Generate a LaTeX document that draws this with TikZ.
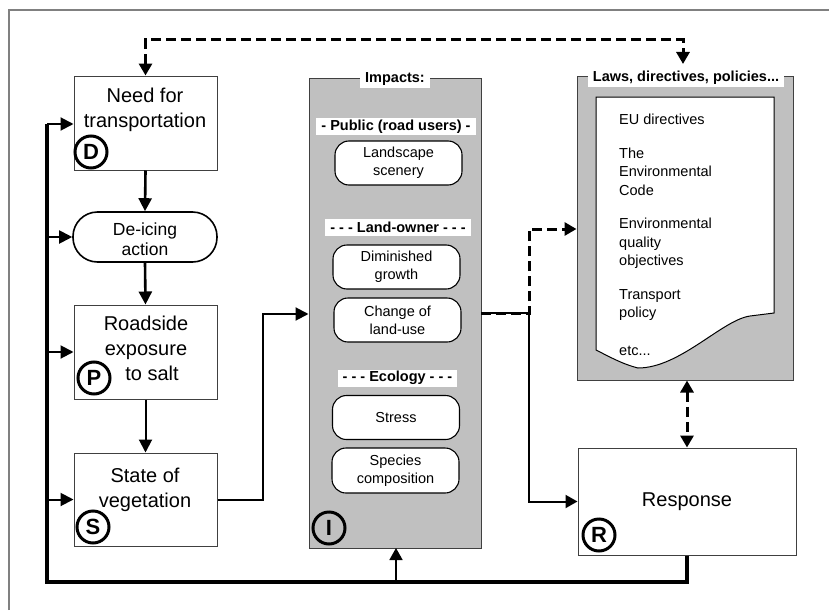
\documentclass[tikz,border=0pt]{standalone}
\usepackage{fontspec}
\setmainfont{Liberation Sans}
\usetikzlibrary{arrows.meta}
\definecolor{panelgray}{HTML}{C0C0C0}
\definecolor{edgegray}{HTML}{404040}
\definecolor{framegray}{HTML}{808080}
\tikzset{
  box/.style={draw=edgegray,line width=1pt,fill=white,inner sep=0pt,minimum width=143pt},
  btxt/.style={align=center,inner sep=0pt,font=\fontsize{20}{25}\selectfont},
  pill/.style={draw=black,line width=1.6pt,fill=white,inner sep=0pt,minimum width=144pt,minimum height=50pt,rounded corners=24.5pt},
  panel/.style={draw=edgegray,line width=1pt,fill=panelgray,inner sep=0pt},
  ibox/.style={draw=black,line width=1.1pt,fill=white,rounded corners=14pt,inner sep=0pt,minimum width=127pt,minimum height=44pt,align=center,font=\fontsize{14.5}{18}\selectfont},
  tag/.style={fill=white,inner xsep=5pt,inner ysep=0pt,minimum height=17pt,font=\fontsize{14.5}{17}\selectfont\bfseries},
  letter/.style={circle,draw=black,line width=3pt,inner sep=0pt,minimum size=32pt,font=\fontsize{22}{22}\selectfont\bfseries},
  ltxt/.style={anchor=west,align=left,inner sep=0pt,font=\fontsize{14.5}{18.5}\selectfont},
  flow/.style={line width=2.6pt,-{Triangle[length=13pt,width=13pt]}},
  feed/.style={line width=2pt,-{Triangle[length=13pt,width=13pt]}},
  loopline/.style={line width=3.2pt},
  dashline/.style={line width=3pt,dash pattern=on 10pt off 5pt},
  tipboth/.style={{Triangle[length=12pt,width=13pt]}-{Triangle[length=12pt,width=13pt]}},
  tipend/.style={-{Triangle[length=12pt,width=13pt]}}
}
\begin{document}
\begin{tikzpicture}[x=1pt,y=-1pt]
\useasboundingbox (0,0) rectangle (829,610);
% frame
\draw[framegray,line width=1.2pt] (9,610) -- (9,10) -- (829,10);

% DPSIR left column
\node[box,minimum height=94pt] (D) at (145.5,123) {};
\node[btxt] (Dt) at (145,109.5) {Need for\\transportation};
\node[letter] (Dl) at (91,152) {D};

\node[pill] (De) at (145,237) {};
\node[btxt,font=\fontsize{17.5}{20}\selectfont] (Det) at (145,239) {De-icing\\action};

\node[box,minimum height=94pt] (P) at (145.5,352) {};
\node[btxt] (Pt) at (146,348) {Roadside\\exposure\\\hspace*{12pt}to salt};
\node[letter] (Pl) at (94,378) {P};

\node[box,minimum height=93pt] (S) at (145.5,499.5) {};
\node[btxt] (St) at (145,489.5) {State of\\vegetation};
\node[letter] (Sl) at (93,527) {S};

% Impacts panel
\node[panel,minimum width=172pt,minimum height=470pt] (I) at (395,313) {};
\node[tag] (It) at (395,79) {Impacts:};
\node[tag] (Ipub) at (396,126.5) {- Public (road users) -};
\node[ibox] (I1) at (398.5,163) {Landscape\\scenery};
\node[tag] (Iland) at (398,227) {- - - Land-owner - - -};
\node[ibox] (I2) at (396.5,267) {Diminished\\growth};
\node[ibox] (I3) at (397.5,320) {Change of\\land-use};
\node[tag] (Ieco) at (397.5,378) {- - - Ecology - - -};
\node[ibox] (I4) at (396,417.5) {Stress};
\node[ibox,minimum height=45pt] (I5) at (395.5,470.5) {Species\\composition};
\node[letter] (Il) at (329,528) {I};

% Laws panel
\node[panel,minimum width=216pt,minimum height=304pt] (L) at (685,228) {};
\node[tag] (Lt) at (686,78) {Laws, directives, policies...};
\draw[fill=white,draw=black,line width=1pt] (596,97) -- (774,97) -- (774,313) -- (750,316)
  .. controls (722,320) and (680,368) .. (638,368)
  .. controls (622,364) and (608,356) .. (596,350) -- cycle;
\node[ltxt] (L1) at (619,119) {EU directives};
\node[ltxt] (L2) at (619,171.5) {The\\Environmental\\Code};
\node[ltxt] (L3) at (619,243.5) {Environmental\\quality\\objectives};
\node[ltxt] (L4) at (619,305) {Transport\\policy};
\node[ltxt] (L5) at (619,351) {etc...};

% Response
\node[box,minimum width=218pt,minimum height=107pt] (R) at (687,501.5) {};
\node[btxt] (Rt) at (687,502) {Response};
\node[letter] (Rl) at (599,535) {R};

% coordinates
\coordinate (fbL) at (47,582);
\coordinate (fbTop) at (47,124);
\coordinate (topL) at (145.5,40);
\coordinate (topR) at (683,40);
\coordinate (lawTip) at (683,64);
\coordinate (sBend) at (263,314);
\coordinate (iOut) at (481,313);
\coordinate (jBend) at (529,313);
\coordinate (dBend) at (529,229);

% main chain
\draw[flow] (D.south) -- (De.north);
\draw[flow] (De.south) -- (P.north);
\draw[flow,line width=2pt] (P.south) -- (S.north);

% feedback loop
\draw[loopline] (R.south) |- (fbL) -- (fbTop);
\draw[feed] (fbTop) -- (D.west |- fbTop);
\draw[feed] (47,237) -- (De.west);
\draw[feed] (47,352) -- (P.west);
\draw[feed] (47,499.5) -- (S.west);
\draw[line width=1.7pt,tipend] (396,582) -- (396,548);

% state to impacts
\draw[feed] (S.east) -| (sBend) -- (I.west |- sBend);

% impacts to response and laws
\draw[line width=2pt,tipend] (iOut) -- (jBend) |- (R.west);
\draw[dashline,tipend] (iOut) -- (jBend) -- (dBend) -- (L.west |- dBend);

% dashed links
\draw[dashline,tipboth] (D.north) -- (topL) -- (topR) -- (lawTip);
\draw[dashline,tipboth] (R.north |- L.south) -- (R.north);
\end{tikzpicture}
\end{document}
